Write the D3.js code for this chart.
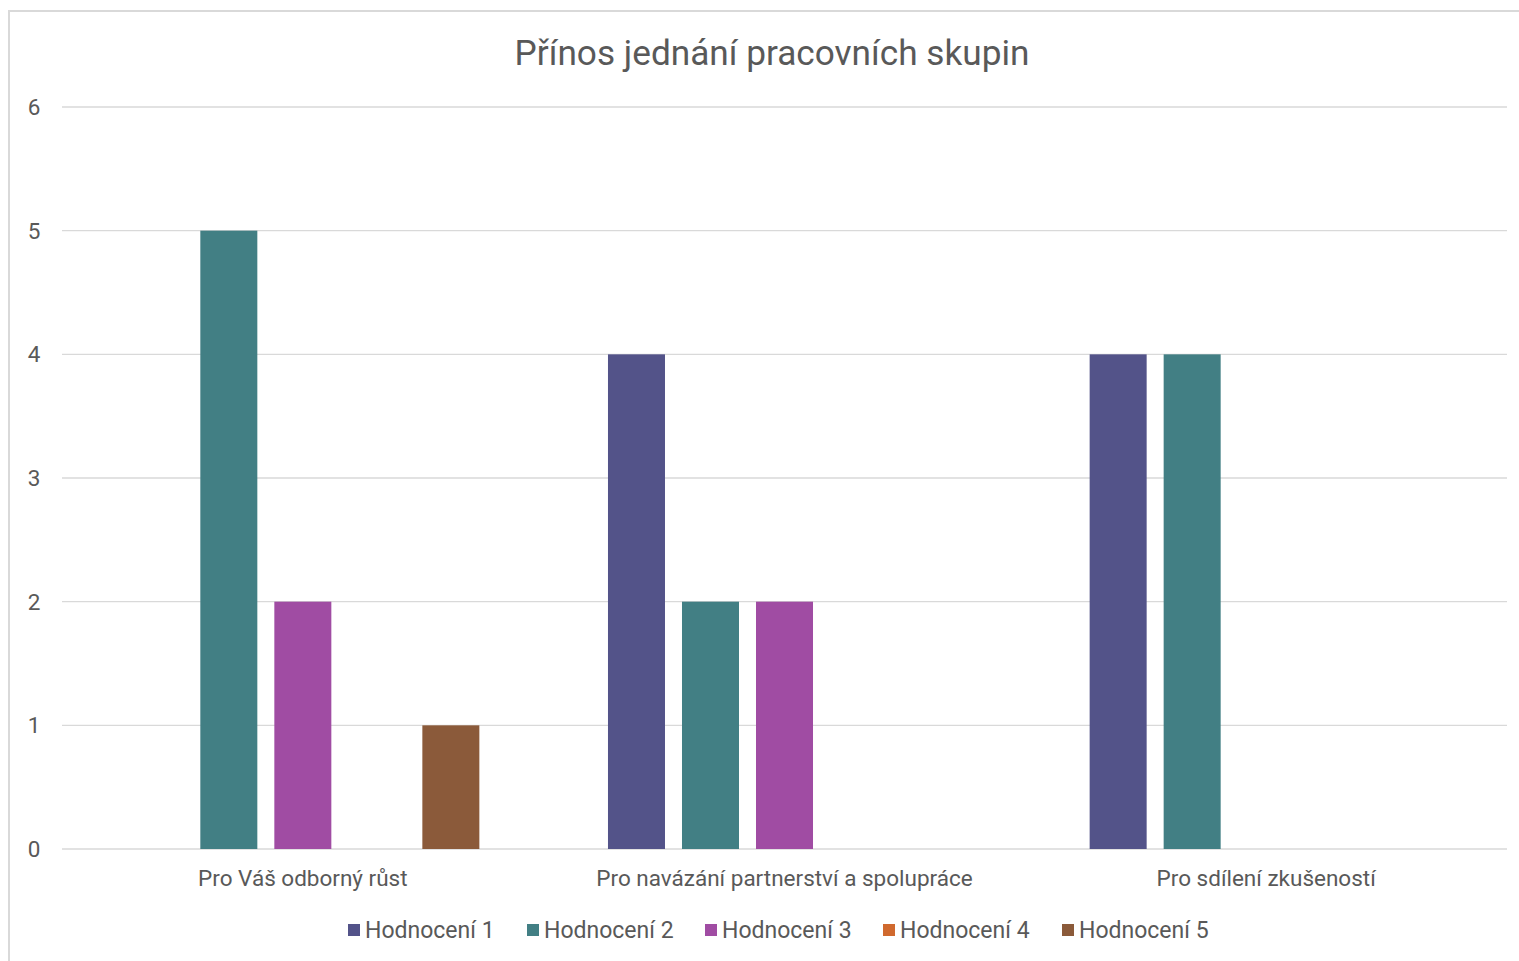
<!DOCTYPE html>
<html><head><meta charset="utf-8">
<script src="https://cdn.jsdelivr.net/npm/d3@7"></script>
<style>
body{margin:0;background:#fff;}
svg{display:block;}
text{font-family:"Roboto","Liberation Sans",sans-serif;fill:#595959;}
</style></head>
<body><svg id="c" width="1519" height="961"></svg>
<script>
const title = "Přínos jednání pracovních skupin";
const categories = ["Pro Váš odborný růst","Pro navázání partnerství a spolupráce","Pro sdílení zkušeností"];
const seriesNames = ["Hodnocení 1","Hodnocení 2","Hodnocení 3","Hodnocení 4","Hodnocení 5"];
const seriesColors = ["#535389","#427f84","#a04ca3","#d0692e","#8b5a3a"];
const hodnoceni1 = [0,4,4];
const hodnoceni2 = [5,2,4];
const hodnoceni3 = [2,2,0];
const hodnoceni4 = [0,0,0];
const hodnoceni5 = [1,0,0];
const yTicks = [0,1,2,3,4,5,6];

const seriesValues = [hodnoceni1,hodnoceni2,hodnoceni3,hodnoceni4,hodnoceni5];
const svg = d3.select("#c");

// frame
svg.append("path").attr("d","M9,961 V11 H1519").attr("fill","none").attr("stroke","#d9d9d9").attr("stroke-width",2);

const m = {left:62, right:1507, top:107, bottom:849};
const x0 = d3.scaleBand().domain(categories).range([m.left,m.right]).padding(0);
const x1 = d3.scaleBand().domain(seriesNames).range([0,x0.bandwidth()]).paddingInner(17/74).paddingOuter(0.869);
const y = d3.scaleLinear().domain([0,6]).range([m.bottom,m.top]);

// gridlines
svg.append("g").selectAll("line").data(yTicks).join("line")
  .attr("x1",m.left).attr("x2",m.right)
  .attr("y1",d=>y(d)).attr("y2",d=>y(d))
  .attr("stroke","#d9d9d9").attr("stroke-width",1.3);

// y labels
svg.append("g").selectAll("text").data(yTicks).join("text")
  .attr("x",34).attr("y",d=>y(d)).attr("dy","0.36em").attr("text-anchor","middle")
  .attr("font-size",22.5).text(d=>d);

// bars
const data = [];
categories.forEach((c,ci)=>seriesNames.forEach((s,si)=>data.push({c,s,v:seriesValues[si][ci],col:seriesColors[si]})));
svg.append("g").selectAll("rect").data(data.filter(d=>d.v>0)).join("rect")
  .attr("x",d=>x0(d.c)+x1(d.s)).attr("width",x1.bandwidth())
  .attr("y",d=>y(d.v)).attr("height",d=>y(0)-y(d.v)).attr("fill",d=>d.col);

// category labels
svg.append("g").selectAll("text").data(categories).join("text")
  .attr("x",d=>x0(d)+x0.bandwidth()/2).attr("y",886).attr("text-anchor","middle")
  .attr("font-size",22.5).text(d=>d);

// title
svg.append("text").attr("x",772).attr("y",65).attr("text-anchor","middle")
  .attr("font-size",35.2).text(title);

// legend
const legX = [348,527,705,883,1062];
const lg = svg.append("g").selectAll("g").data(seriesNames).join("g")
  .attr("transform",(d,i)=>`translate(${legX[i]},930)`);
lg.append("rect").attr("x",0).attr("y",-6).attr("width",12).attr("height",12).attr("fill",(d,i)=>seriesColors[i]);
lg.append("text").attr("x",17).attr("y",0).attr("dy","0.36em").attr("font-size",23).text(d=>d);
</script></body></html>
